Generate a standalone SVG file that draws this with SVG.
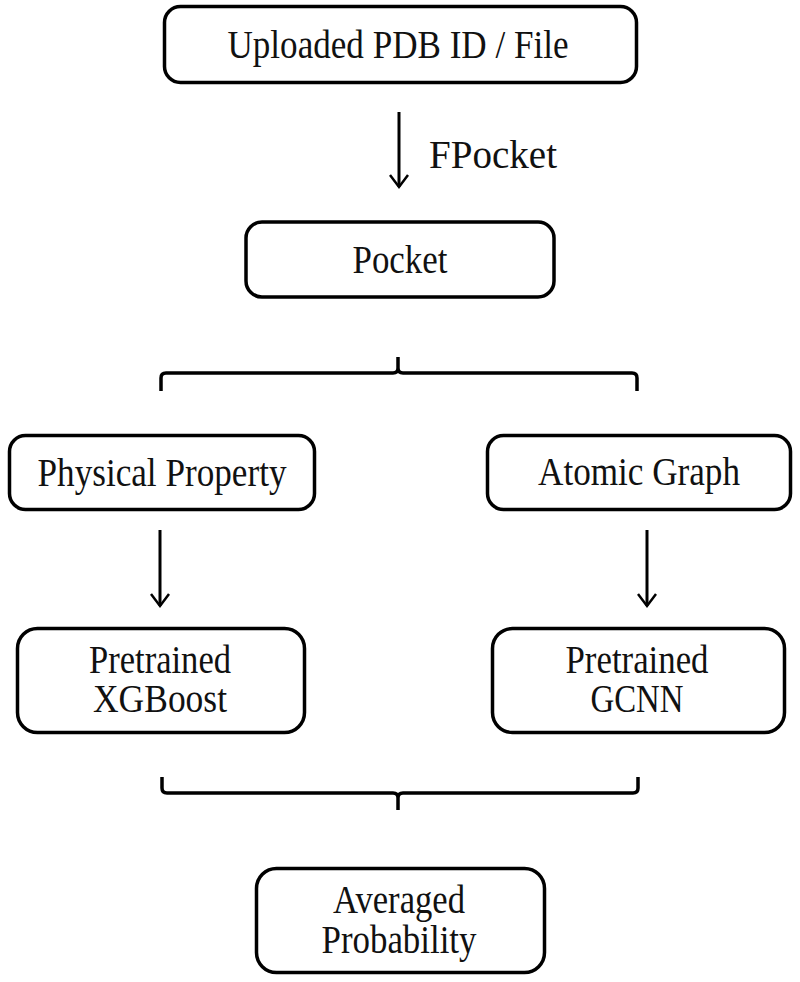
<svg xmlns="http://www.w3.org/2000/svg" width="800" height="982" viewBox="0 0 800 982">
<style>
.box{fill:#fff;stroke:#000;stroke-width:3.5}
.t{font-family:"Liberation Serif","Times New Roman",serif;font-size:39px;fill:#111;text-anchor:middle}
.c{fill:none;stroke:#000;stroke-width:3}
.h{fill:none;stroke:#000;stroke-width:2.5}
.b{fill:none;stroke:#000;stroke-width:3.5}
</style>
<rect width="800" height="982" fill="#fff"/>
<g id="connectors">
<line class="c" x1="399" y1="112" x2="399" y2="187"/>
<path class="h" d="M390,175 L399,187 L408,175"/>
<line class="c" x1="160" y1="530" x2="160" y2="606"/>
<path class="h" d="M151,594 L160,606 L169,594"/>
<line class="c" x1="647" y1="530" x2="647" y2="606"/>
<path class="h" d="M638,594 L647,606 L656,594"/>
<path class="b" d="M161,391 L161,378 Q161,373 166,373 L393,373 Q398,373 398,368 L398,357 M398,368 Q398,373 403,373 L632,373 Q637,373 637,378 L637,391"/>
<path class="b" d="M162,777 L162,788 Q162,793 167,793 L393,793 Q398,793 398,798 L398,810 M398,798 Q398,793 403,793 L633,793 Q638,793 638,788 L638,777"/>
<text class="t" x="493" y="168" textLength="128" lengthAdjust="spacingAndGlyphs">FPocket</text>
</g>
<g id="upload">
<rect class="box" x="164.5" y="6.5" width="472" height="76" rx="16"/>
<text class="t" x="398" y="58" textLength="341" lengthAdjust="spacingAndGlyphs">Uploaded PDB ID / File</text>
</g>
<g id="pocket">
<rect class="box" x="246" y="222" width="308" height="75" rx="16"/>
<text class="t" x="400" y="273" textLength="95" lengthAdjust="spacingAndGlyphs">Pocket</text>
</g>
<g id="physical">
<rect class="box" x="9.5" y="435.5" width="305" height="74" rx="16"/>
<text class="t" x="162" y="486" textLength="249" lengthAdjust="spacingAndGlyphs">Physical Property</text>
</g>
<g id="atomic">
<rect class="box" x="487.5" y="435.5" width="303" height="74" rx="16"/>
<text class="t" x="639" y="485" textLength="202" lengthAdjust="spacingAndGlyphs">Atomic Graph</text>
</g>
<g id="xgboost">
<rect class="box" x="17.5" y="628.5" width="287" height="104" rx="20"/>
<text class="t" x="160" y="673" textLength="142" lengthAdjust="spacingAndGlyphs">Pretrained</text>
<text class="t" x="160" y="712" textLength="134" lengthAdjust="spacingAndGlyphs">XGBoost</text>
</g>
<g id="gcnn">
<rect class="box" x="492.5" y="628.5" width="292" height="104" rx="20"/>
<text class="t" x="637" y="673" textLength="143" lengthAdjust="spacingAndGlyphs">Pretrained</text>
<text class="t" x="637" y="712" textLength="93" lengthAdjust="spacingAndGlyphs">GCNN</text>
</g>
<g id="averaged">
<rect class="box" x="256.5" y="868.5" width="288" height="104" rx="20"/>
<text class="t" x="399" y="913" textLength="132" lengthAdjust="spacingAndGlyphs">Averaged</text>
<text class="t" x="399" y="953" textLength="155" lengthAdjust="spacingAndGlyphs">Probability</text>
</g>
</svg>
